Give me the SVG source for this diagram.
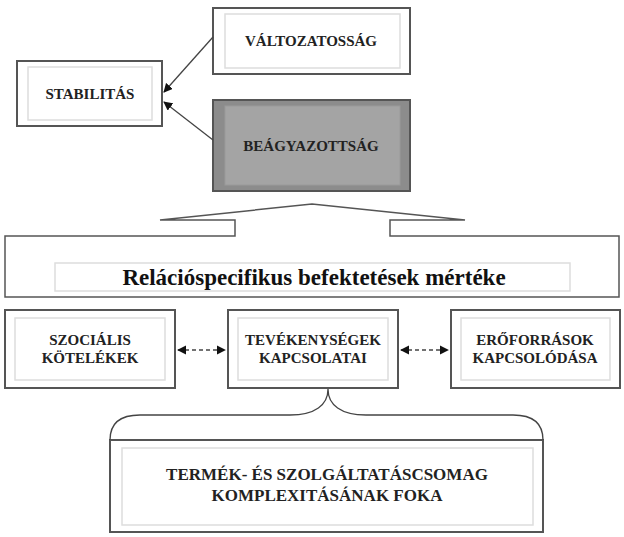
<svg xmlns="http://www.w3.org/2000/svg" width="624" height="537" viewBox="0 0 624 537">
<defs>
<style>
.o{fill:#fff;stroke:#555;stroke-width:2}
.i{fill:none;stroke:#ddd;stroke-width:1.5}
.t{font-family:"Liberation Serif","DejaVu Serif",serif;font-weight:bold;font-size:15px;fill:#222;text-anchor:middle}
.c{fill:none;stroke:#444;stroke-width:1.3}
</style>
<marker id="a" viewBox="0 0 10 10" refX="9" refY="5" markerWidth="7" markerHeight="7" orient="auto-start-reverse"><path d="M0,0L10,5L0,10z" fill="#111"/></marker>
</defs>
<g id="stab"><rect class="o" x="17" y="61" width="145" height="65"/><rect class="i" x="28" y="67" width="124" height="53"/><text class="t" x="90" y="99">STABILITÁS</text></g>
<g id="valt"><rect class="o" x="213" y="8" width="197" height="66"/><rect class="i" x="225" y="14" width="175" height="54"/><text class="t" x="311" y="46">VÁLTOZATOSSÁG</text></g>
<g id="beag"><rect x="213" y="100" width="197" height="91" fill="#8c8c8c" stroke="#555" stroke-width="2"/><rect x="225" y="106" width="175" height="79" fill="#a4a4a4" stroke="#9a9a9a"/><text class="t" x="311" y="151">BEÁGYAZOTTSÁG</text></g>
<g id="rel"><path d="M5,297V236H235V220H160L312,204L465,220H390V236H619V297Z" fill="#fff" stroke="#555" stroke-width="1.5"/><rect class="i" x="55" y="263" width="515" height="28"/><text x="314" y="285" font-family="Liberation Serif,serif" font-weight="bold" font-size="23" fill="#111" text-anchor="middle">Relációspecifikus befektetések mértéke</text></g>
<g id="szoc"><rect class="o" x="5" y="310" width="170" height="78"/><rect class="i" x="15" y="318" width="150" height="62"/><text class="t" x="90" y="345">SZOCIÁLIS</text><text class="t" x="90" y="363">KÖTELÉKEK</text></g>
<g id="tev"><rect class="o" x="228" y="310" width="170" height="78"/><rect class="i" x="238" y="318" width="150" height="62"/><text class="t" x="313" y="345">TEVÉKENYSÉGEK</text><text class="t" x="313" y="363">KAPCSOLATAI</text></g>
<g id="ero"><rect class="o" x="451" y="310" width="169" height="78"/><rect class="i" x="461" y="318" width="149" height="62"/><text class="t" x="535" y="345">ERŐFORRÁSOK</text><text class="t" x="535" y="363">KAPCSOLÓDÁSA</text></g>
<g id="term"><path d="M110,532V440H543V532Z" fill="#fff" stroke="#555" stroke-width="2"/><rect class="i" x="122" y="448" width="411" height="77"/><text x="327" y="480" class="t" style="font-size:17px">TERMÉK- ÉS SZOLGÁLTATÁSCSOMAG</text><text x="327" y="501" class="t" style="font-size:17px">KOMPLEXITÁSÁNAK FOKA</text></g>
<g id="connectors">
<line class="c" x1="213" y1="37" x2="164" y2="92" marker-end="url(#a)"/>
<line class="c" x1="213" y1="140" x2="164" y2="102" marker-end="url(#a)"/>
<line class="c" x1="178" y1="350" x2="225" y2="350" stroke-dasharray="4,3" marker-start="url(#a)" marker-end="url(#a)"/>
<line class="c" x1="401" y1="350" x2="448" y2="350" stroke-dasharray="4,3" marker-start="url(#a)" marker-end="url(#a)"/>
<path class="c" d="M110,440C110,425 118,415 140,415H290C315,415 328,405 328,389C328,405 341,415 366,415H513C535,415 543,425 543,440"/>
</g>
</svg>
